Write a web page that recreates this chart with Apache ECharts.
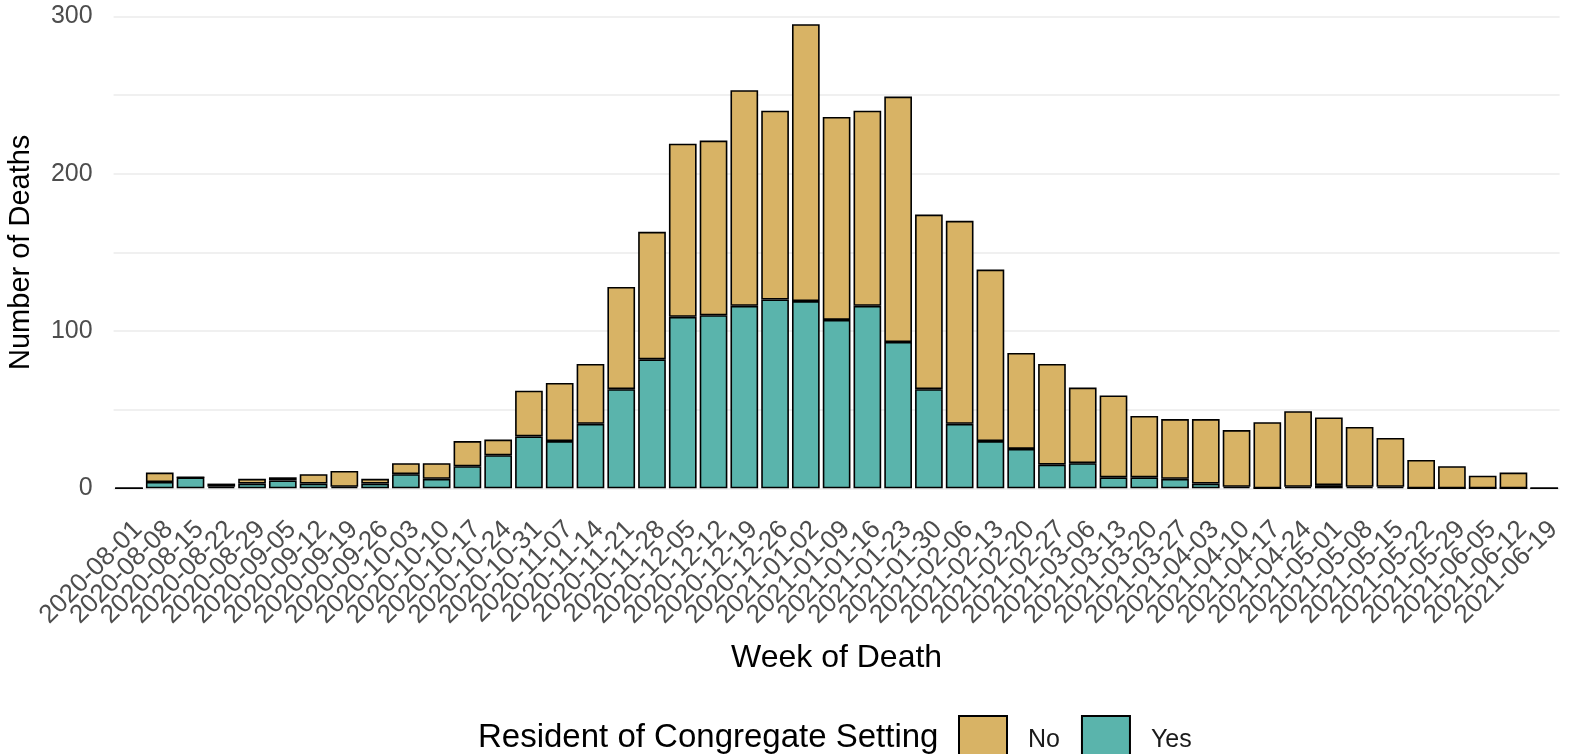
<!DOCTYPE html>
<html>
<head>
<meta charset="utf-8">
<title>Deaths by week</title>
<script src="https://cdn.jsdelivr.net/npm/echarts@6/dist/echarts.min.js"></script>
<style>
  html, body { margin: 0; padding: 0; background: #fff; }
  #chart { width: 1570px; height: 754px; }
</style>
</head>
<body>
<div id="chart"></div>
<script>
// week labels (x axis)
var weeks = [
  '2020-08-01', '2020-08-08', '2020-08-15', '2020-08-22', '2020-08-29',
  '2020-09-05', '2020-09-12', '2020-09-19', '2020-09-26', '2020-10-03',
  '2020-10-10', '2020-10-17', '2020-10-24', '2020-10-31', '2020-11-07',
  '2020-11-14', '2020-11-21', '2020-11-28', '2020-12-05', '2020-12-12',
  '2020-12-19', '2020-12-26', '2021-01-02', '2021-01-09', '2021-01-16',
  '2021-01-23', '2021-01-30', '2021-02-06', '2021-02-13', '2021-02-20',
  '2021-02-27', '2021-03-06', '2021-03-13', '2021-03-20', '2021-03-27',
  '2021-04-03', '2021-04-10', '2021-04-17', '2021-04-24', '2021-05-01',
  '2021-05-08', '2021-05-15', '2021-05-22', '2021-05-29', '2021-06-05',
  '2021-06-12', '2021-06-19'
]

// resident of congregate setting = Yes (bottom of stack)
var yesDeaths = [
  0, 4, 7, 1, 3, 5, 3, 1, 3, 9,
  6, 14, 21, 33, 30, 41, 63, 82, 109, 110,
  116, 120, 119, 107, 116, 93, 63, 41, 30, 25,
  15, 16, 7, 7, 6, 3, 1, 0, 1, 2,
  1, 1, 0, 0, 0, 0, 0
]

// resident of congregate setting = No (top of stack)
var noDeaths = [
  0, 6, 0, 2, 3, 2, 6, 10, 3, 7,
  10, 16, 10, 29, 37, 38, 65, 81, 110, 111,
  137, 120, 176, 129, 124, 156, 111, 129, 109, 61,
  64, 48, 52, 39, 38, 41, 36, 42, 48, 43,
  38, 31, 18, 14, 8, 10, 0
]

var yTicks = [0, 100, 200, 300]

var fontFamily = "'Liberation Sans', Arial, sans-serif"

var chart = echarts.init(document.getElementById('chart'))

var option = {
  backgroundColor: '#fff',
  animation: false,
  textStyle: { fontFamily: fontFamily },
  grid: {
    left: 113.6,
    right: 10.4,
    top: 16.3,
    bottom: 265.7,
    containLabel: false,
    outerBoundsMode: 'none'
  },
  legend: {
    data: ['No', 'Yes'],
    left: 958,
    top: 715,
    padding: 0,
    itemWidth: 48,
    itemHeight: 48,
    itemGap: 21,
    icon: 'rect',
    textStyle: {
      fontSize: 25,
      color: '#1a1a1a',
      fontFamily: fontFamily,
      padding: [0, 0, 0, 16]
    }
  },
  graphic: [
    {
      type: 'text',
      x: 478,
      y: 738,
      style: {
        text: 'Resident of Congregate Setting',
        font: '33px ' + fontFamily,
        fill: '#000',
        textAlign: 'left',
        textVerticalAlign: 'middle'
      }
    }
  ],
  xAxis: {
    type: 'category',
    data: weeks,
    name: 'Week of Death',
    nameLocation: 'middle',
    nameGap: 154,
    nameMoveOverlap: false,
    nameTextStyle: { fontSize: 32, color: '#000' },
    axisLine: { show: false },
    axisTick: { show: false },
    axisLabel: {
      interval: 0,
      rotate: 45,
      fontSize: 26,
      color: '#4d4d4d',
      margin: 28,
      verticalAlign: 'top'
    }
  },
  yAxis: {
    type: 'value',
    min: 0,
    max: 300,
    interval: 50,
    name: 'Number of Deaths',
    nameLocation: 'middle',
    nameGap: 78,
    nameTextStyle: { fontSize: 29, color: '#000' },
    axisLine: { show: false },
    axisTick: { show: false },
    axisLabel: {
      fontSize: 25,
      color: '#4d4d4d',
      margin: 21,
      formatter: function (v) {
        return yTicks.indexOf(v) >= 0 ? String(v) : ''
      }
    },
    splitLine: { lineStyle: { color: '#ebebeb', width: 1.5 } }
  },
  series: [
    {
      name: 'Yes',
      type: 'bar',
      stack: 'deaths',
      data: yesDeaths,
      barWidth: '90%',
      itemStyle: { color: '#5ab4ac', borderColor: '#000', borderWidth: 1.6 }
    },
    {
      name: 'No',
      type: 'bar',
      stack: 'deaths',
      data: noDeaths,
      barWidth: '90%',
      itemStyle: { color: '#d8b365', borderColor: '#000', borderWidth: 1.6 }
    }
  ]
}

chart.setOption(option)
</script>
</body>
</html>
